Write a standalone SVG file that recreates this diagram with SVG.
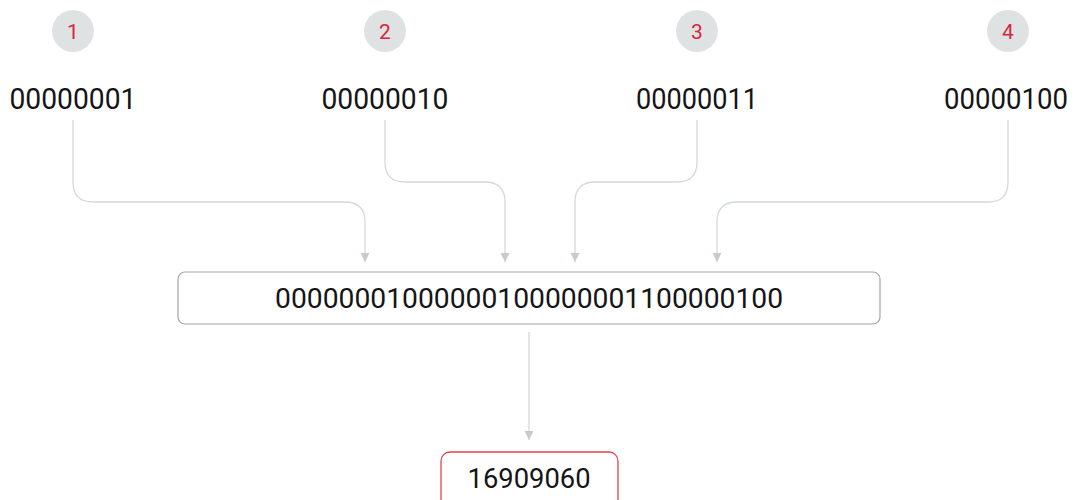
<svg xmlns="http://www.w3.org/2000/svg" width="1078" height="500" viewBox="0 0 1078 500">
  <style>
    .badge { fill: #dfe2e3; }
    .badge-num { font-family: Roboto, "Liberation Sans", sans-serif; font-size: 21px; fill: #d7263d; text-anchor: middle; }
    .byte { font-family: Roboto, "Liberation Sans", sans-serif; font-size: 30px; fill: #151515; text-anchor: middle; }
    .bits { font-family: Roboto, "Liberation Sans", sans-serif; font-size: 28px; fill: #151515; text-anchor: middle; }
    .conn { fill: none; stroke: #d5d8dc; stroke-width: 1.3; }
    .box { fill: #ffffff; stroke: #a3a6ad; stroke-width: 1.2; }
    .result { fill: #ffffff; stroke: #e0424f; stroke-width: 1.3; }
  </style>
  <defs>
    <marker id="arrow" viewBox="0 0 10 10" refX="10" refY="5" markerWidth="11" markerHeight="9" markerUnits="userSpaceOnUse" orient="auto">
      <path d="M0,0 L10,5 L0,10 z" fill="#c6cbd2"/>
    </marker>
  </defs>
  <rect width="1078" height="500" fill="#ffffff"/>

  <g id="byte1">
    <circle class="badge" cx="73" cy="31" r="21"/>
    <text class="badge-num" x="73" y="38.5">1</text>
    <text class="byte" x="73" y="109" textLength="127" lengthAdjust="spacingAndGlyphs">00000001</text>
  </g>
  <g id="byte2">
    <circle class="badge" cx="385" cy="31" r="21"/>
    <text class="badge-num" x="385" y="38.5">2</text>
    <text class="byte" x="385" y="109" textLength="127" lengthAdjust="spacingAndGlyphs">00000010</text>
  </g>
  <g id="byte3">
    <circle class="badge" cx="697" cy="31" r="21"/>
    <text class="badge-num" x="697" y="38.5">3</text>
    <text class="byte" x="697" y="109" textLength="122" lengthAdjust="spacingAndGlyphs">00000011</text>
  </g>
  <g id="byte4">
    <circle class="badge" cx="1008" cy="31" r="21"/>
    <text class="badge-num" x="1008" y="38.5">4</text>
    <text class="byte" x="1006" y="109" textLength="124" lengthAdjust="spacingAndGlyphs">00000100</text>
  </g>

  <g id="connectors">
    <path class="conn" marker-end="url(#arrow)" d="M73,120 V182 Q73,202 93,202 H345 Q365,202 365,222 V262"/>
    <path class="conn" marker-end="url(#arrow)" d="M385,120 V162 Q385,182 405,182 H485 Q505,182 505,202 V262"/>
    <path class="conn" marker-end="url(#arrow)" d="M697,120 V162 Q697,182 677,182 H595 Q575,182 575,202 V262"/>
    <path class="conn" marker-end="url(#arrow)" d="M1008,120 V182 Q1008,202 988,202 H737 Q717,202 717,222 V262"/>
    <path class="conn" marker-end="url(#arrow)" d="M529,332 V440"/>
  </g>

  <g id="combined">
    <rect class="box" x="178" y="272" width="702" height="52" rx="7"/>
    <text class="bits" x="529" y="308" textLength="508" lengthAdjust="spacingAndGlyphs">00000001000000100000001100000100</text>
  </g>

  <g id="result">
    <rect class="result" x="441" y="452" width="177" height="64" rx="9"/>
    <text class="bits" x="529" y="488" textLength="123" lengthAdjust="spacingAndGlyphs">16909060</text>
  </g>
</svg>
